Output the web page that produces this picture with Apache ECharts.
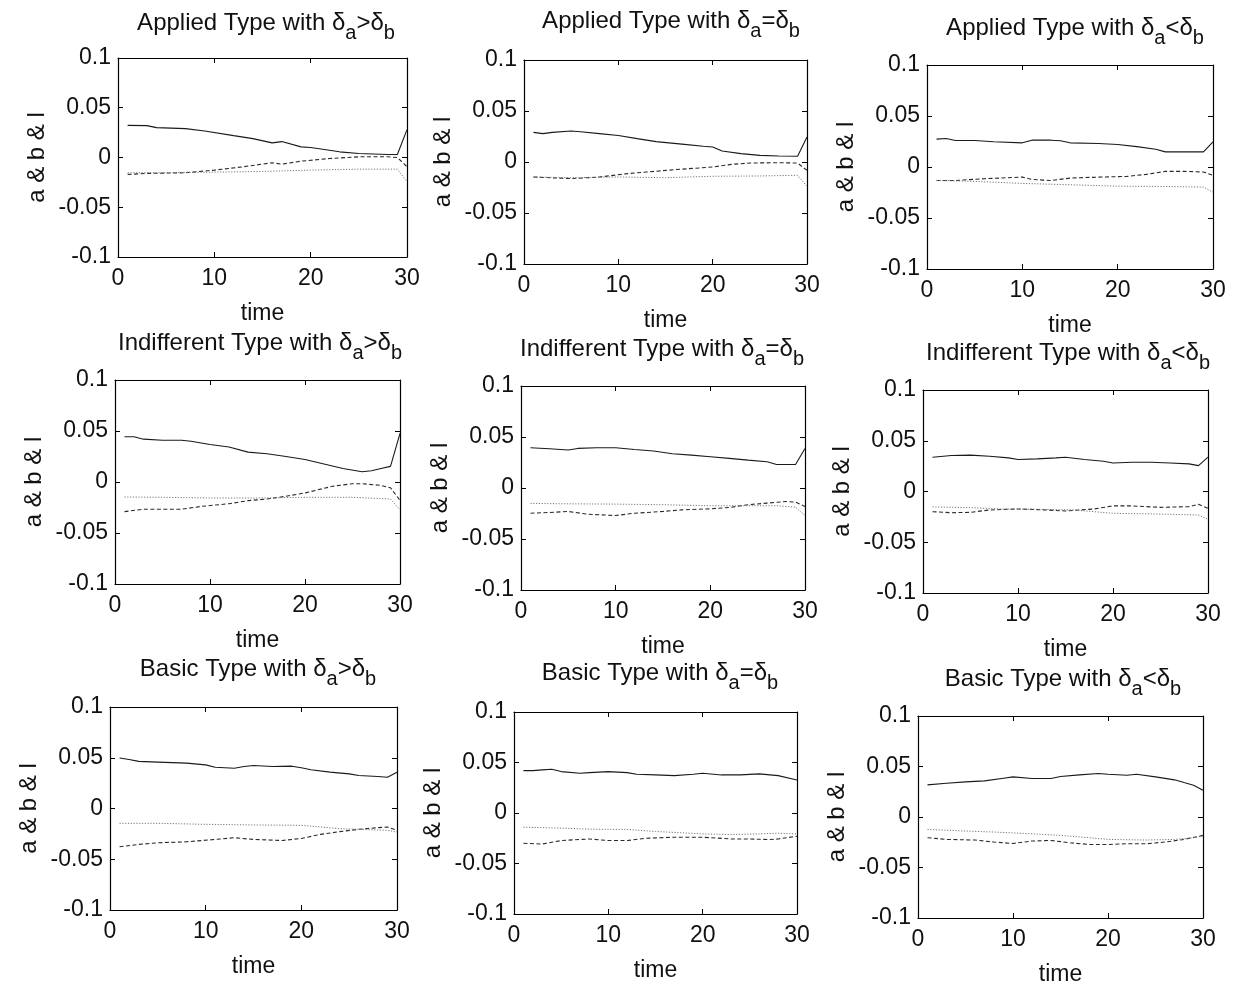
<!DOCTYPE html>
<html><head><meta charset="utf-8">
<script src="https://cdn.jsdelivr.net/npm/echarts@6/dist/echarts.min.js"></script>
<style>html,body{margin:0;padding:0;background:#fff}#c{width:1233px;height:989px}</style>
</head><body><div id="c"></div>
<script>
// ---- data ----
const xTicks = [0, 10, 20, 30];
const yTicks = [-0.1, -0.05, 0, 0.05, 0.1];
const typeNames = ['Applied Type', 'Indifferent Type', 'Basic Type'];
const relations = ['>', '=', '<'];
const xLabel = 'time';
const yLabel = 'a & b & l';

// Applied, da>db
const p1Solid = [[1,0.0323],[3,0.032],[4,0.030],[7,0.029],[9,0.0267],[12,0.022],[14,0.019],[16,0.0147],[17,0.016],[19,0.0107],[20,0.010],[23,0.0057],[25,0.004],[28,0.003],[29,0.003],[30,0.028]];
const p1Dashed = [[1,-0.017],[3,-0.016],[7,-0.0153],[10,-0.0127],[13,-0.0093],[16,-0.0053],[17,-0.0067],[19,-0.0037],[22,-0.001],[25,0.0007],[28,0.0007],[29,0],[30,-0.0093]];
const p1Dotted = [[1,-0.0153],[5,-0.0153],[10,-0.0147],[15,-0.014],[20,-0.0127],[25,-0.0117],[29,-0.0117],[30,-0.0243]];
// Applied, da=db
const p2Solid = [[1,0.029],[2,0.0278],[3,0.029],[5,0.0304],[6,0.0297],[8,0.0278],[10,0.026],[12,0.0229],[14,0.020],[17,0.0173],[19,0.0154],[20,0.0147],[21,0.0108],[23,0.0082],[25,0.0065],[27,0.0059],[29,0.0056],[30,0.0245]];
const p2Dashed = [[1,-0.0147],[5,-0.0163],[8,-0.0147],[11,-0.0114],[13,-0.0098],[16,-0.0075],[20,-0.0049],[22,-0.0023],[24,-0.001],[27,-0.0007],[29,-0.001],[30,-0.0082]];
const p2Dotted = [[1,-0.0147],[5,-0.0154],[10,-0.0147],[15,-0.0154],[20,-0.014],[25,-0.0137],[29,-0.013],[30,-0.0239]];
// Applied, da<db
const p3Solid = [[1,0.0273],[2,0.028],[3,0.026],[5,0.026],[7,0.0247],[10,0.0237],[11,0.0263],[13,0.0263],[14,0.0257],[15,0.0237],[18,0.023],[20,0.022],[22,0.020],[24,0.0174],[25,0.0148],[27,0.0148],[29,0.0148],[30,0.0247]];
const p3Dashed = [[1,-0.0132],[3,-0.0132],[6,-0.0115],[10,-0.0099],[11,-0.0122],[13,-0.0132],[15,-0.0109],[18,-0.0099],[21,-0.0092],[23,-0.0072],[25,-0.0043],[27,-0.0043],[29,-0.0049],[30,-0.0082]];
const p3Dotted = [[1,-0.0132],[5,-0.0141],[10,-0.0161],[15,-0.0174],[20,-0.0188],[25,-0.0191],[29,-0.0197],[30,-0.0247]];
// Indifferent, da>db
const p4Solid = [[1,0.0443],[2,0.0443],[3,0.042],[5,0.041],[7,0.041],[8,0.040],[10,0.0367],[12,0.0343],[14,0.0293],[16,0.0277],[18,0.025],[20,0.022],[22,0.0177],[24,0.0133],[26,0.010],[27,0.011],[28,0.0133],[29,0.0153],[30,0.0477]];
const p4Dashed = [[1,-0.029],[3,-0.0267],[7,-0.0267],[9,-0.024],[12,-0.0213],[14,-0.0183],[16,-0.0167],[18,-0.014],[20,-0.0107],[23,-0.004],[25,-0.0017],[26,-0.0017],[28,-0.0033],[29,-0.0057],[30,-0.018]];
const p4Dotted = [[1,-0.0147],[5,-0.015],[10,-0.0157],[15,-0.0157],[20,-0.015],[25,-0.015],[29,-0.0167],[30,-0.0273]];
// Indifferent, da=db
const p5Solid = [[1,0.0395],[3,0.0385],[5,0.0372],[6,0.0388],[8,0.0395],[10,0.0395],[12,0.0378],[14,0.0362],[16,0.0336],[18,0.0322],[20,0.0306],[22,0.029],[24,0.0273],[26,0.0257],[27,0.023],[29,0.023],[30,0.0388]];
const p5Dashed = [[1,-0.0247],[3,-0.024],[5,-0.023],[7,-0.0257],[10,-0.027],[12,-0.0247],[15,-0.023],[17,-0.0214],[20,-0.0204],[22,-0.0191],[24,-0.0164],[26,-0.0148],[28,-0.0132],[29,-0.0138],[30,-0.0181]];
const p5Dotted = [[1,-0.0151],[5,-0.0155],[10,-0.0158],[15,-0.0164],[20,-0.0174],[24,-0.0174],[27,-0.0174],[29,-0.0188],[30,-0.027]];
// Indifferent, da<db
const p6Solid = [[1,0.0338],[3,0.0354],[5,0.0358],[7,0.0348],[9,0.0331],[10,0.0315],[12,0.0321],[14,0.0331],[15,0.0338],[17,0.0315],[19,0.0298],[20,0.0281],[22,0.0288],[24,0.0288],[26,0.0281],[28,0.0272],[29,0.0255],[30,0.0338]];
const p6Dashed = [[1,-0.0199],[3,-0.0209],[5,-0.0205],[7,-0.0182],[10,-0.0172],[13,-0.0182],[15,-0.0192],[18,-0.0172],[20,-0.0142],[22,-0.0142],[25,-0.0156],[28,-0.0149],[29,-0.0126],[30,-0.0166]];
const p6Dotted = [[1,-0.0152],[5,-0.0159],[8,-0.0172],[12,-0.0175],[16,-0.0182],[18,-0.0199],[20,-0.0215],[25,-0.0222],[29,-0.0232],[30,-0.0275]];
// Basic, da>db
const p7Solid = [[1,0.0497],[2,0.0483],[3,0.0464],[5,0.0457],[8,0.0447],[10,0.043],[11,0.0407],[13,0.0397],[14,0.0414],[15,0.0424],[17,0.0414],[19,0.0417],[20,0.0401],[21,0.0381],[23,0.0358],[25,0.0341],[26,0.0325],[28,0.0315],[29,0.0308],[30,0.0358]];
const p7Dashed = [[1,-0.0377],[3,-0.0354],[5,-0.0338],[8,-0.0328],[11,-0.0305],[13,-0.0288],[15,-0.0305],[18,-0.0315],[20,-0.0295],[22,-0.0255],[24,-0.0228],[26,-0.0205],[28,-0.0189],[29,-0.0182],[30,-0.0215]];
const p7Dotted = [[1,-0.0146],[5,-0.0146],[10,-0.0156],[15,-0.0162],[20,-0.0166],[22,-0.0182],[24,-0.0199],[26,-0.0205],[28,-0.0212],[29,-0.0215],[30,-0.0232]];
// Basic, da=db
const p8Solid = [[1,0.042],[2,0.042],[3,0.0427],[4,0.0433],[5,0.041],[7,0.0393],[8,0.04],[10,0.041],[12,0.04],[13,0.0383],[15,0.0377],[17,0.037],[19,0.0383],[20,0.0393],[22,0.0377],[24,0.0377],[26,0.0387],[28,0.037],[30,0.0327]];
const p8Dashed = [[1,-0.03],[3,-0.0307],[5,-0.0273],[8,-0.0257],[10,-0.0273],[12,-0.0273],[14,-0.025],[17,-0.024],[20,-0.024],[23,-0.0257],[25,-0.0257],[27,-0.0263],[28,-0.0257],[30,-0.023]];
const p8Dotted = [[1,-0.014],[5,-0.015],[8,-0.016],[12,-0.0163],[15,-0.0183],[18,-0.0197],[20,-0.0207],[23,-0.0213],[26,-0.0207],[28,-0.02],[30,-0.0207]];
// Basic, da<db
const p9Solid = [[1,0.0318],[3,0.0334],[5,0.0348],[7,0.0358],[9,0.0384],[10,0.0397],[12,0.0381],[14,0.0381],[15,0.0401],[17,0.0417],[19,0.043],[20,0.0424],[22,0.0414],[23,0.0424],[25,0.0397],[27,0.0368],[28,0.0341],[29,0.0315],[30,0.0265]];
const p9Dashed = [[1,-0.0205],[3,-0.0222],[6,-0.0228],[8,-0.0248],[10,-0.0262],[12,-0.0238],[14,-0.0232],[16,-0.0255],[18,-0.0272],[20,-0.0272],[22,-0.0265],[24,-0.0265],[26,-0.0248],[28,-0.0222],[30,-0.0182]];
const p9Dotted = [[1,-0.0123],[5,-0.0139],[8,-0.0149],[11,-0.0162],[15,-0.0182],[18,-0.0205],[20,-0.0222],[24,-0.0228],[27,-0.0222],[29,-0.0205],[30,-0.0189]];

const panelData = [
  [p1Solid, p1Dashed, p1Dotted], [p2Solid, p2Dashed, p2Dotted], [p3Solid, p3Dashed, p3Dotted],
  [p4Solid, p4Dashed, p4Dotted], [p5Solid, p5Dashed, p5Dotted], [p6Solid, p6Dashed, p6Dotted],
  [p7Solid, p7Dashed, p7Dotted], [p8Solid, p8Dashed, p8Dotted], [p9Solid, p9Dashed, p9Dotted]
];

// ---- layout (plot boxes in px) ----
const boxes = [
  [118, 58, 289, 199], [524, 60, 283, 204], [927, 65, 286, 204],
  [115, 380, 285, 204], [521, 386, 284, 204], [923, 390, 285, 203],
  [110, 707, 287, 203], [514, 712, 283, 202], [918, 716, 285, 202]
];
const titleCenters = [
  [266, 10], [671, 8], [1075, 15],
  [260, 330], [662, 336], [1068, 340],
  [258, 656], [660, 660], [1063, 666]
];

const FONT = '"Liberation Sans", Arial, Helvetica, sans-serif';
const TXT = '#111';
const lineStyles = [
  { color: '#1a1a1a', width: 1.1, type: 'solid' },
  { color: '#2a2a2a', width: 1.1, type: [4, 2.5] },
  { color: '#777', width: 1, type: [1.2, 1.6] }
];
const lineNames = ['solid', 'dashed', 'dotted'];

const fmtY = v => String(+(+v).toFixed(2));

const option = { animation: false, backgroundColor: '#fff',
  grid: [], xAxis: [], yAxis: [], series: [], title: [] };

boxes.forEach((b, i) => {
  const [l, t, w, h] = b;
  option.grid.push({ left: l, top: t, width: w, height: h, show: false, containLabel: false });
  const tick = { show: true, inside: true, length: 5, lineStyle: { color: '#000', width: 1 } };
  const axLine = { show: true, onZero: false, lineStyle: { color: '#000', width: 1.2 } };
  // bottom
  option.xAxis.push({ gridIndex: i, type: 'value', min: xTicks[0], max: xTicks[xTicks.length - 1], interval: 10,
    position: 'bottom', axisLine: axLine, axisTick: tick, splitLine: { show: false },
    axisLabel: { show: true, fontSize: 23, color: TXT, fontFamily: FONT, margin: 10 },
    name: xLabel, nameLocation: 'middle', nameGap: 45,
    nameTextStyle: { fontSize: 23, color: TXT, fontFamily: FONT } });
  // top
  option.xAxis.push({ gridIndex: i, type: 'value', min: xTicks[0], max: xTicks[xTicks.length - 1], interval: 10,
    position: 'top', axisLine: axLine, axisTick: tick, splitLine: { show: false }, axisLabel: { show: false } });
  // left
  option.yAxis.push({ gridIndex: i, type: 'value', min: yTicks[0], max: yTicks[yTicks.length - 1], interval: 0.05,
    position: 'left', axisLine: axLine, axisTick: tick, splitLine: { show: false },
    axisLabel: { show: true, fontSize: 23, color: TXT, fontFamily: FONT, margin: 7, formatter: fmtY },
    name: yLabel, nameLocation: 'middle', nameGap: 69, nameRotate: 90,
    nameTextStyle: { fontSize: 24, color: TXT, fontFamily: FONT } });
  // right
  option.yAxis.push({ gridIndex: i, type: 'value', min: yTicks[0], max: yTicks[yTicks.length - 1], interval: 0.05,
    position: 'right', axisLine: axLine, axisTick: tick, splitLine: { show: false }, axisLabel: { show: false } });

  panelData[i].forEach((d, k) => {
    option.series.push({ type: 'line', name: lineNames[k], xAxisIndex: 2 * i, yAxisIndex: 2 * i,
      data: d, showSymbol: false, symbol: 'none', silent: true,
      lineStyle: lineStyles[k] });
  });

  const row = Math.floor(i / 3), col = i % 3;
  const tc = titleCenters[i];
  option.title.push({
    text: '{m|' + typeNames[row] + ' with δ}{s|a}{m|' + relations[col] + 'δ}{s|b}',
    left: tc[0], top: tc[1], textAlign: 'center', padding: 0,
    textStyle: { fontWeight: 'normal', rich: {
      m: { fontSize: 24, fontWeight: 'normal', color: TXT, fontFamily: FONT, verticalAlign: 'middle', lineHeight: 26 },
      s: { fontSize: 20, fontWeight: 'normal', color: TXT, fontFamily: FONT, verticalAlign: 'middle', lineHeight: 26, padding: [20, 0, 0, 0] }
    } }
  });
});

const chart = echarts.init(document.getElementById('c'), null, { renderer: 'canvas' });
chart.setOption(option);
</script></body></html>
